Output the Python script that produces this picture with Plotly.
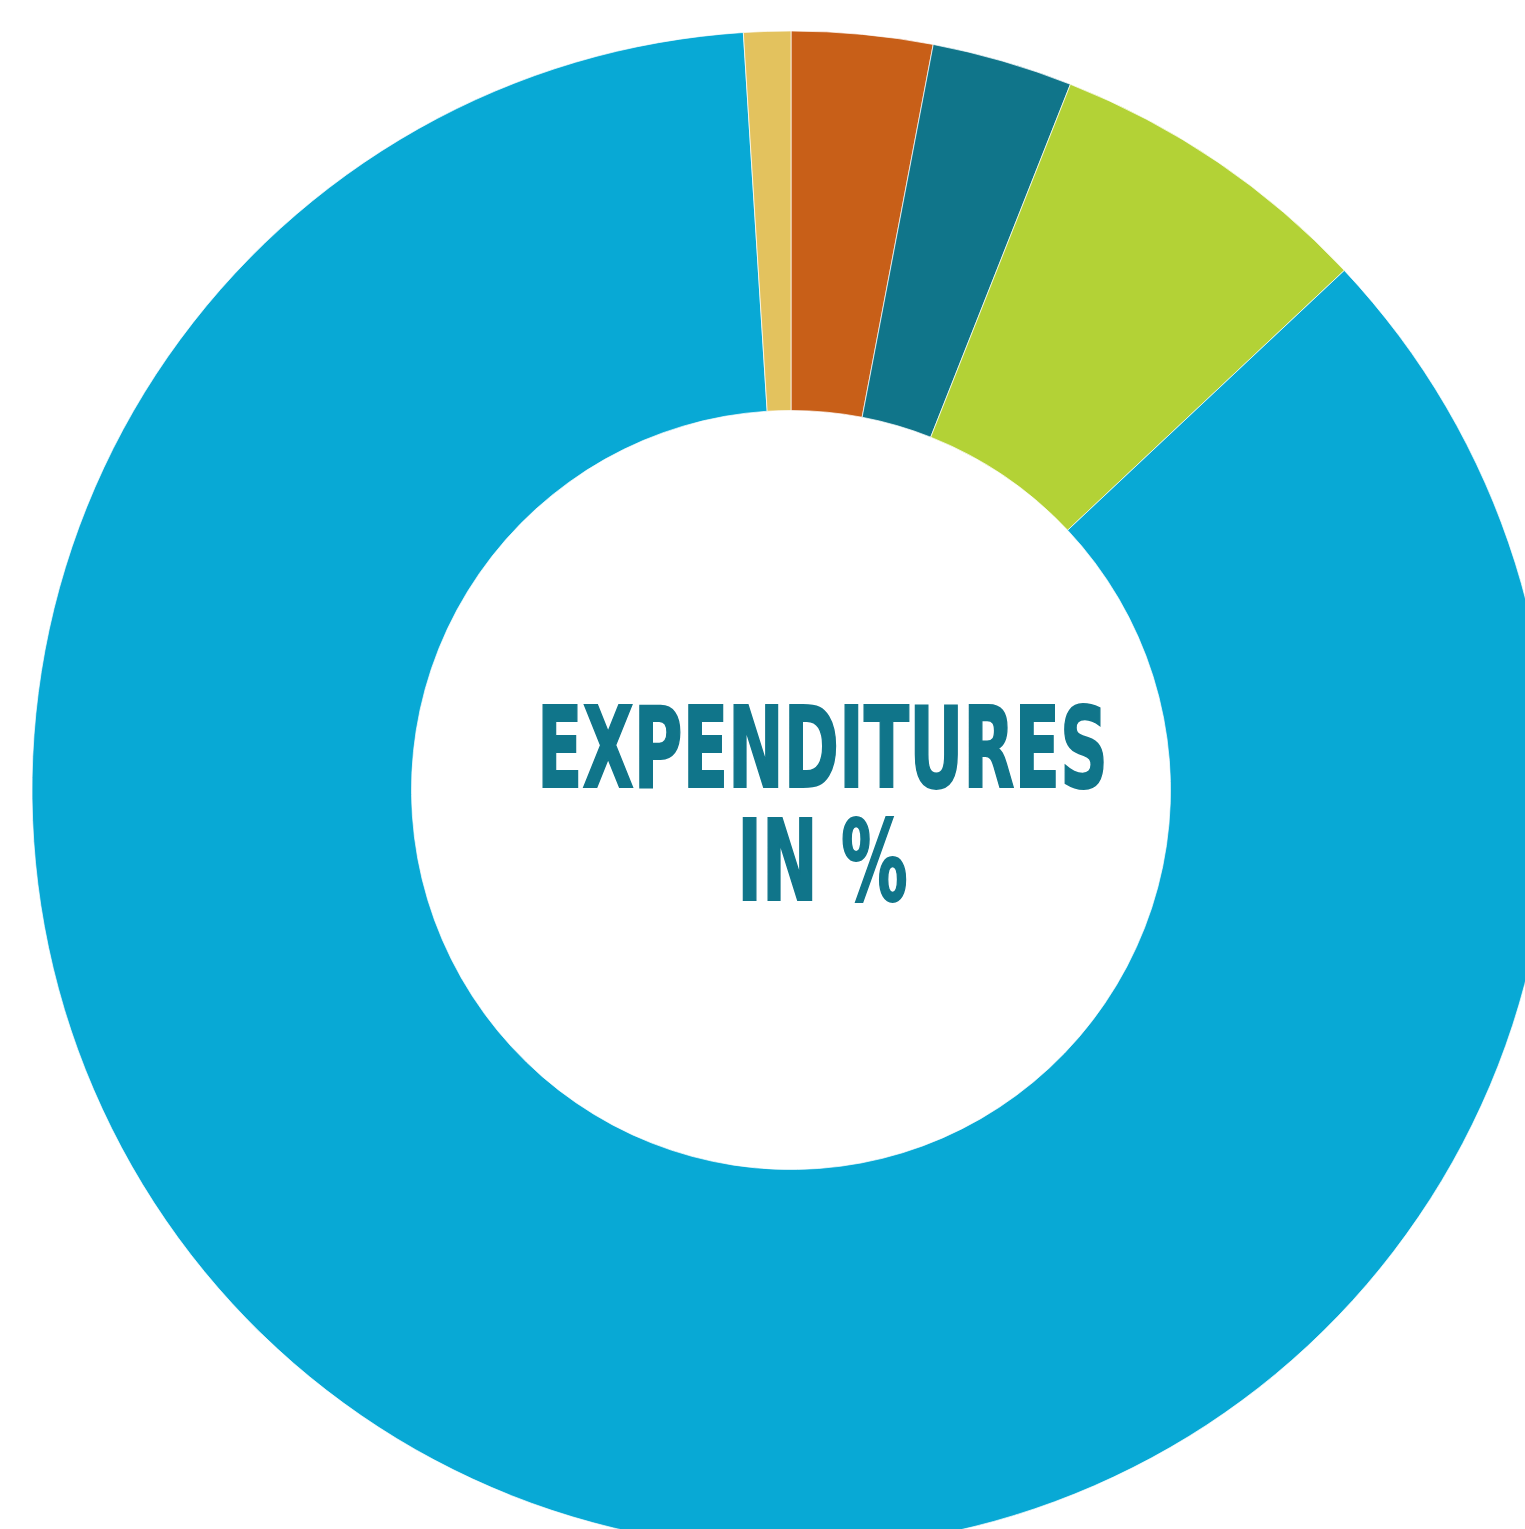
import plotly.graph_objects as go

labels = ["Orange", "Teal", "Green", "Blue", "Tan"]
values = [3, 3, 7, 86, 1]
colors = ["#C85F18", "#10758A", "#B3D236", "#08A9D5", "#E3C25E"]
center_lines = ["EXPENDITURES", "IN %"]

W, H = 1582, 1582
ML, MR, MT, MB = 32, 32, 31, 33

fig = go.Figure(go.Pie(
    labels=labels,
    values=values,
    hole=0.5,
    sort=False,
    direction="clockwise",
    rotation=0,
    marker=dict(colors=colors, line=dict(color="#FFFFFF", width=0.7)),
    textinfo="none",
    hoverinfo="label+percent",
    showlegend=False,
))

pw = W - ML - MR
ph = H - MT - MB
fig.add_annotation(
    x=(822 - ML) / pw, y=(MT + ph - 802) / ph,
    xref="paper", yref="paper",
    xanchor="center", yanchor="middle",
    text="<br>".join("<b>" + s + "</b>" for s in center_lines),
    showarrow=False,
    font=dict(family="DejaVu Sans Condensed, DejaVu Sans, sans-serif", size=74, color="#10758A"),
)

fig.update_layout(
    width=W, height=H,
    margin=dict(l=ML, r=MR, t=MT, b=MB),
    paper_bgcolor="white", plot_bgcolor="white",
)

post = """
document.body.style.overflow='hidden';
document.documentElement.style.overflow='hidden';
document.body.style.margin='0';
var gd = document.getElementById('{plot_id}');
var t = gd.querySelector('text.annotation-text');
if (t) {
  var s = 1.52;
  var lines = t.querySelectorAll('tspan.line');
  if (lines.length > 1) { lines[1].setAttribute('dy', (113 / s) + 'px'); }
  var bl1 = t.getStartPositionOfChar(0).y;
  var m = t.getScreenCTM();
  var offY = m.f;
  var p = (787 - offY - s * bl1) / (1 - s);
  t.setAttribute('transform', 'translate(0,' + p + ') scale(1,' + s + ') translate(0,' + (-p) + ')');
  t.style.stroke = '#10758A';
  t.style.strokeWidth = '1.2px';
}
"""
fig.write_html("out.html", post_script=post)
